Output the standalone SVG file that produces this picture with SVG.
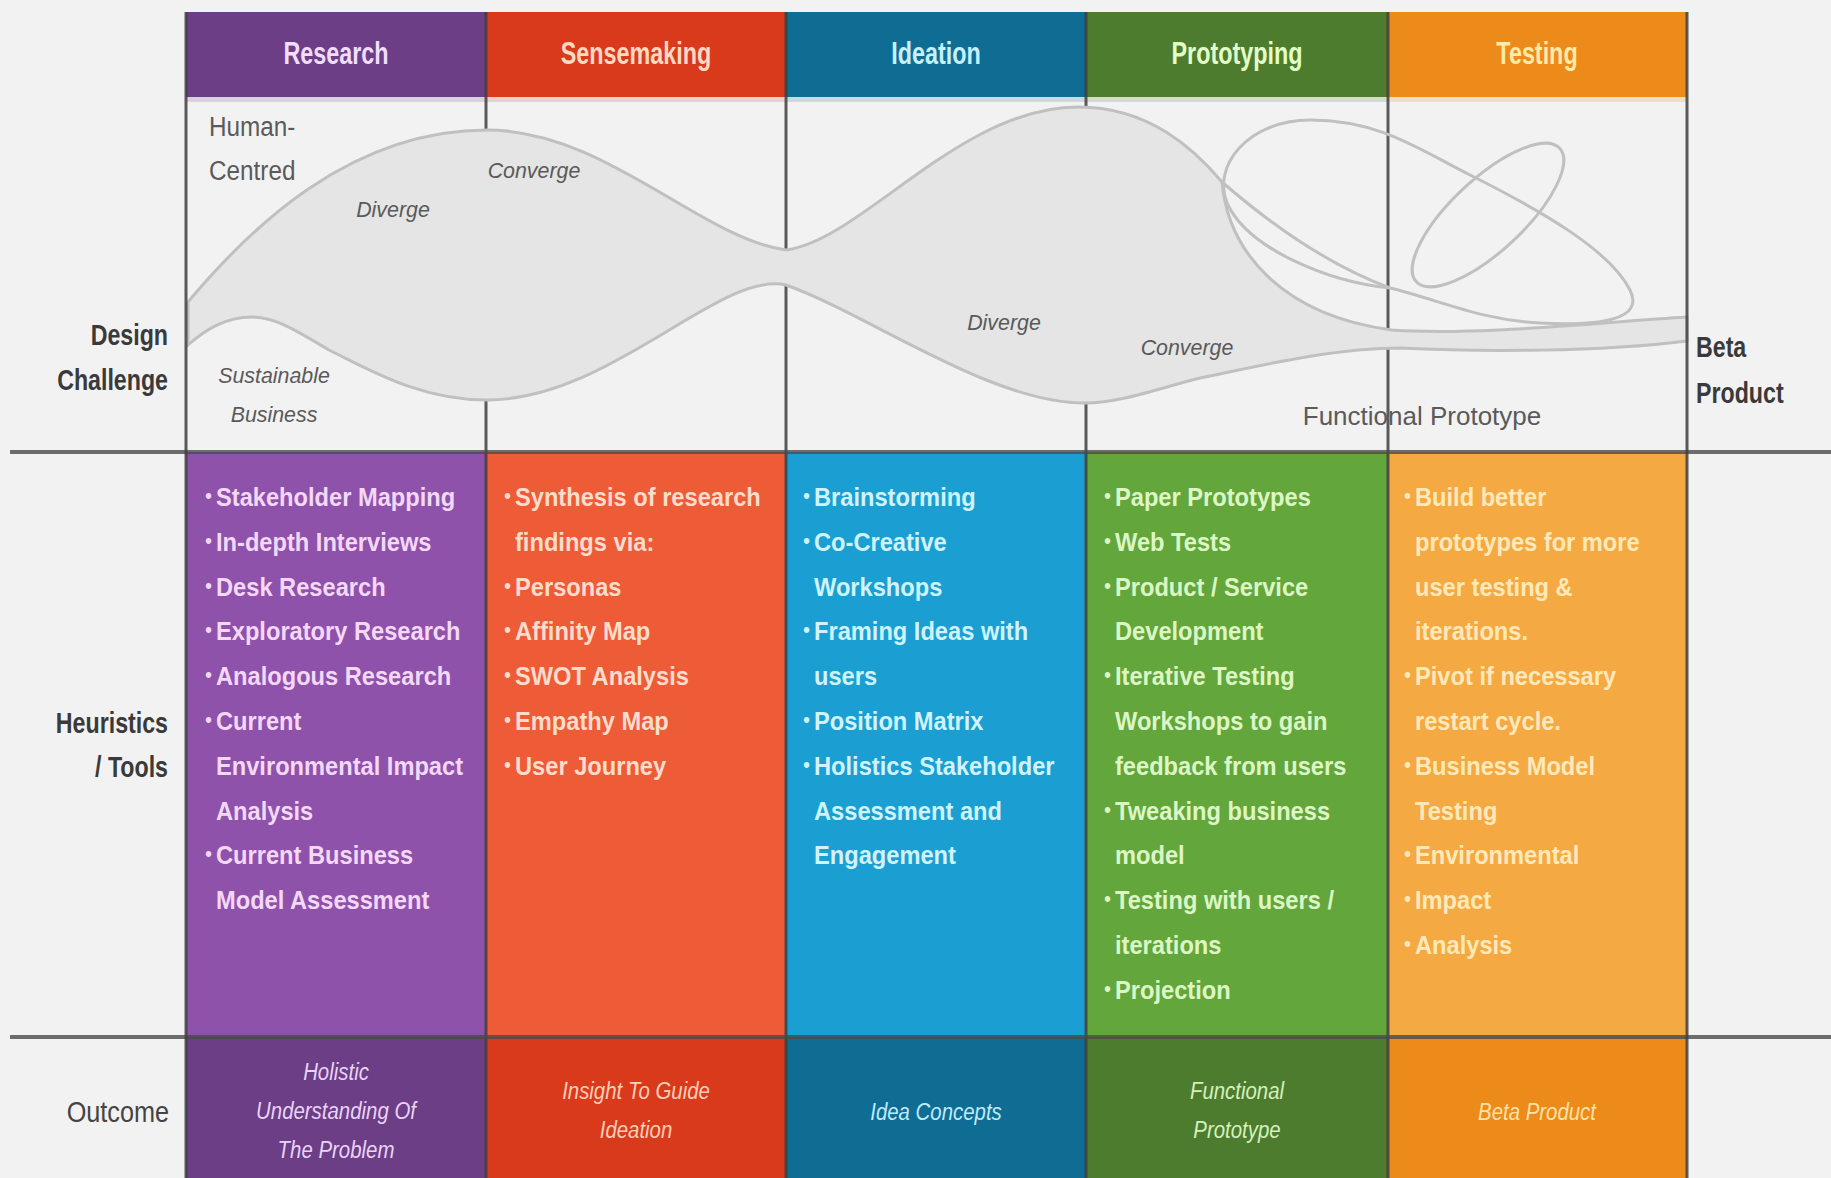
<svg xmlns="http://www.w3.org/2000/svg" width="1831" height="1178" viewBox="0 0 1831 1178">
<style>
.hdr{font-family:"Liberation Sans",Arial,sans-serif;font-weight:bold;font-size:32px;text-anchor:middle}
.li{font-family:"Liberation Sans",Arial,sans-serif;font-weight:bold;font-size:26px}
.bul{font-family:"Liberation Sans",Arial,sans-serif;font-size:22px}
.out{font-family:"Liberation Sans",Arial,sans-serif;font-style:italic;font-size:24px;text-anchor:middle}
.side{font-family:"Liberation Sans",Arial,sans-serif;font-weight:bold;font-size:29px;fill:#3a3a3a;text-anchor:end}
.sideR{font-family:"Liberation Sans",Arial,sans-serif;font-size:29px;fill:#444;text-anchor:end}
.note{font-family:"Liberation Sans",Arial,sans-serif;font-style:italic;font-size:23px;fill:#5a5a5a;text-anchor:middle}
.gl{font-family:"Liberation Sans",Arial,sans-serif;font-size:27px;fill:#5a5a5a}
.div{stroke:#3f3f3f;stroke-width:3;stroke-opacity:0.85}
.hline{stroke:#4a4a4a;stroke-width:4;stroke-opacity:0.8}
.wave{fill:#e5e5e5;stroke:#c0c0c0;stroke-width:3}
.loop{fill:none;stroke:#c0c0c0;stroke-width:3}
</style>
<rect x="0" y="0" width="1831" height="1178" fill="#f2f2f2"/>

<!-- Research -->
<g id="col-research">
  <rect x="186" y="12" width="300" height="85" fill="#6b3e86"/>
  <rect x="186" y="97" width="300" height="5" fill="#6b3e86" opacity="0.18"/>
  <rect x="186" y="452" width="300" height="585" fill="#8f52ab"/>
  <rect x="186" y="1037" width="300" height="141" fill="#6b3e86"/>
  <text class="hdr" fill="#f2dcff" transform="translate(336,64) scale(0.73,1)">Research</text>
  <g fill="#f3d8f8" transform="translate(216,0) scale(0.91,1)">
    <text class="bul" x="-12" y="503">•</text><text class="li" x="0" y="506">Stakeholder Mapping</text>
    <text class="bul" x="-12" y="548">•</text><text class="li" x="0" y="551">In-depth Interviews</text>
    <text class="bul" x="-12" y="593">•</text><text class="li" x="0" y="596">Desk Research</text>
    <text class="bul" x="-12" y="637">•</text><text class="li" x="0" y="640">Exploratory Research</text>
    <text class="bul" x="-12" y="682">•</text><text class="li" x="0" y="685">Analogous Research</text>
    <text class="bul" x="-12" y="727">•</text><text class="li" x="0" y="730">Current</text>
    <text class="li" x="0" y="775">Environmental Impact</text>
    <text class="li" x="0" y="820">Analysis</text>
    <text class="bul" x="-12" y="861">•</text><text class="li" x="0" y="864">Current Business</text>
    <text class="li" x="0" y="909">Model Assessment</text>
  </g>
  <g fill="#ead3f6">
    <text class="out" transform="translate(336,1080) scale(0.85,1)">Holistic</text>
    <text class="out" transform="translate(336,1119) scale(0.85,1)">Understanding Of</text>
    <text class="out" transform="translate(336,1158) scale(0.85,1)">The Problem</text>
  </g>
</g>

<!-- Sensemaking -->
<g id="col-sensemaking">
  <rect x="486" y="12" width="300" height="85" fill="#d93a1c"/>
  <rect x="486" y="97" width="300" height="5" fill="#d93a1c" opacity="0.18"/>
  <rect x="486" y="452" width="300" height="585" fill="#ee5b37"/>
  <rect x="486" y="1037" width="300" height="141" fill="#d93a1c"/>
  <text class="hdr" fill="#ffd9c2" transform="translate(636,64) scale(0.73,1)">Sensemaking</text>
  <g fill="#ffdccb" transform="translate(515,0) scale(0.91,1)">
    <text class="bul" x="-12" y="503">•</text><text class="li" x="0" y="506">Synthesis of research</text>
    <text class="li" x="0" y="551">findings via:</text>
    <text class="bul" x="-12" y="593">•</text><text class="li" x="0" y="596">Personas</text>
    <text class="bul" x="-12" y="637">•</text><text class="li" x="0" y="640">Affinity Map</text>
    <text class="bul" x="-12" y="682">•</text><text class="li" x="0" y="685">SWOT Analysis</text>
    <text class="bul" x="-12" y="727">•</text><text class="li" x="0" y="730">Empathy Map</text>
    <text class="bul" x="-12" y="772">•</text><text class="li" x="0" y="775">User Journey</text>
  </g>
  <g fill="#ffcfb8">
    <text class="out" transform="translate(636,1099) scale(0.85,1)">Insight To Guide</text>
    <text class="out" transform="translate(636,1138) scale(0.85,1)">Ideation</text>
  </g>
</g>

<!-- Ideation -->
<g id="col-ideation">
  <rect x="786" y="12" width="300" height="85" fill="#0f6d93"/>
  <rect x="786" y="97" width="300" height="5" fill="#0f6d93" opacity="0.18"/>
  <rect x="786" y="452" width="300" height="585" fill="#1b9fd2"/>
  <rect x="786" y="1037" width="300" height="141" fill="#0f6d93"/>
  <text class="hdr" fill="#c4f0ff" transform="translate(936,64) scale(0.73,1)">Ideation</text>
  <g fill="#cff3ff" transform="translate(814,0) scale(0.91,1)">
    <text class="bul" x="-12" y="503">•</text><text class="li" x="0" y="506">Brainstorming</text>
    <text class="bul" x="-12" y="548">•</text><text class="li" x="0" y="551">Co-Creative</text>
    <text class="li" x="0" y="596">Workshops</text>
    <text class="bul" x="-12" y="637">•</text><text class="li" x="0" y="640">Framing Ideas with</text>
    <text class="li" x="0" y="685">users</text>
    <text class="bul" x="-12" y="727">•</text><text class="li" x="0" y="730">Position Matrix</text>
    <text class="bul" x="-12" y="772">•</text><text class="li" x="0" y="775">Holistics Stakeholder</text>
    <text class="li" x="0" y="820">Assessment and</text>
    <text class="li" x="0" y="864">Engagement</text>
  </g>
  <g fill="#bfeaff">
    <text class="out" transform="translate(936,1120) scale(0.85,1)">Idea Concepts</text>
  </g>
</g>

<!-- Prototyping -->
<g id="col-prototyping">
  <rect x="1086" y="12" width="302" height="85" fill="#4e7c2f"/>
  <rect x="1086" y="97" width="302" height="5" fill="#4e7c2f" opacity="0.18"/>
  <rect x="1086" y="452" width="302" height="585" fill="#63a73c"/>
  <rect x="1086" y="1037" width="302" height="141" fill="#4e7c2f"/>
  <text class="hdr" fill="#e2ffc8" transform="translate(1237,64) scale(0.73,1)">Prototyping</text>
  <g fill="#ddf6c6" transform="translate(1115,0) scale(0.91,1)">
    <text class="bul" x="-12" y="503">•</text><text class="li" x="0" y="506">Paper Prototypes</text>
    <text class="bul" x="-12" y="548">•</text><text class="li" x="0" y="551">Web Tests</text>
    <text class="bul" x="-12" y="593">•</text><text class="li" x="0" y="596">Product / Service</text>
    <text class="li" x="0" y="640">Development</text>
    <text class="bul" x="-12" y="682">•</text><text class="li" x="0" y="685">Iterative Testing</text>
    <text class="li" x="0" y="730">Workshops to gain</text>
    <text class="li" x="0" y="775">feedback from users</text>
    <text class="bul" x="-12" y="817">•</text><text class="li" x="0" y="820">Tweaking business</text>
    <text class="li" x="0" y="864">model</text>
    <text class="bul" x="-12" y="906">•</text><text class="li" x="0" y="909">Testing with users /</text>
    <text class="li" x="0" y="954">iterations</text>
    <text class="bul" x="-12" y="996">•</text><text class="li" x="0" y="999">Projection</text>
  </g>
  <g fill="#d4f1bb">
    <text class="out" transform="translate(1237,1099) scale(0.85,1)">Functional</text>
    <text class="out" transform="translate(1237,1138) scale(0.85,1)">Prototype</text>
  </g>
</g>

<!-- Testing -->
<g id="col-testing">
  <rect x="1388" y="12" width="299" height="85" fill="#ec8a1a"/>
  <rect x="1388" y="97" width="299" height="5" fill="#ec8a1a" opacity="0.2"/>
  <rect x="1388" y="452" width="299" height="585" fill="#f5a942"/>
  <rect x="1388" y="1037" width="299" height="141" fill="#ec8a1a"/>
  <text class="hdr" fill="#ffeaa8" transform="translate(1537,64) scale(0.73,1)">Testing</text>
  <g fill="#ffe9bb" transform="translate(1415,0) scale(0.91,1)">
    <text class="bul" x="-12" y="503">•</text><text class="li" x="0" y="506">Build better</text>
    <text class="li" x="0" y="551">prototypes for more</text>
    <text class="li" x="0" y="596">user testing &amp;</text>
    <text class="li" x="0" y="640">iterations.</text>
    <text class="bul" x="-12" y="682">•</text><text class="li" x="0" y="685">Pivot if necessary</text>
    <text class="li" x="0" y="730">restart cycle.</text>
    <text class="bul" x="-12" y="772">•</text><text class="li" x="0" y="775">Business Model</text>
    <text class="li" x="0" y="820">Testing</text>
    <text class="bul" x="-12" y="861">•</text><text class="li" x="0" y="864">Environmental</text>
    <text class="bul" x="-12" y="906">•</text><text class="li" x="0" y="909">Impact</text>
    <text class="bul" x="-12" y="951">•</text><text class="li" x="0" y="954">Analysis</text>
  </g>
  <g fill="#ffe3a8">
    <text class="out" transform="translate(1537,1120) scale(0.85,1)">Beta Product</text>
  </g>
</g>

<!-- grid lines (connectors) -->
<g id="connectors">
  <line class="div" x1="486" y1="12" x2="486" y2="1178"/>
  <line class="div" x1="786" y1="12" x2="786" y2="1178"/>
  <line class="div" x1="1086" y1="12" x2="1086" y2="1178"/>
  <line class="div" x1="1388" y1="12" x2="1388" y2="1178"/>
  <line class="hline" x1="10" y1="452" x2="1831" y2="452"/>
  <line class="hline" x1="10" y1="1037" x2="1831" y2="1037"/>
</g>

<!-- design-challenge wave -->
<g id="wave">
  <path class="wave" d="M188,302 C250,228 350,130 487,130 C605,130 700,238 786,250 C862,240 960,107 1078,107 C1150,107 1195,150 1222,182 C1228,250 1280,315 1392,330 C1480,336 1600,322 1687,317 L1687,341 C1600,352 1480,352 1400,348 C1330,348 1250,368 1200,378 C1160,388 1120,403 1085,403 C990,403 870,315 786,285 C720,270 610,400 487,400 C420,400 370,370 329,350 C295,330 275,317 252,317 C225,317 205,330 188,345 Z"/>
  <path class="loop" d="M1222,182 C1260,215 1320,262 1390,288"/>
  <path class="loop" d="M1390,288 C1330,282 1250,250 1228,205 C1210,165 1250,120 1310,120 C1380,120 1420,150 1470,175 C1540,210 1610,250 1630,290 C1645,320 1600,326 1540,323 C1480,320 1440,300 1390,288 Z"/>
  <ellipse class="loop" cx="1488" cy="215" rx="98" ry="36" transform="rotate(-43 1488 215)"/>
</g>

<g id="borders">
  <line class="div" x1="186" y1="12" x2="186" y2="1178"/>
  <line class="div" x1="1687" y1="12" x2="1687" y2="1178"/>
</g>

<!-- labels -->
<g id="labels">
  <text class="side" transform="translate(168,345) scale(0.8,1)">Design</text>
  <text class="side" transform="translate(168,390) scale(0.8,1)">Challenge</text>
  <text class="side" transform="translate(168,733) scale(0.8,1)">Heuristics</text>
  <text class="side" transform="translate(168,777) scale(0.8,1)">/ Tools</text>
  <text class="sideR" transform="translate(169,1122) scale(0.87,1)">Outcome</text>
  <text class="side" style="text-anchor:start" transform="translate(1696,357) scale(0.8,1)">Beta</text>
  <text class="side" style="text-anchor:start" transform="translate(1696,403) scale(0.8,1)">Product</text>

  <text class="gl" transform="translate(209,136) scale(0.9,1)">Human-</text>
  <text class="gl" transform="translate(209,180) scale(0.9,1)">Centred</text>
  <text class="note" transform="translate(393,217) scale(0.93,1)">Diverge</text>
  <text class="note" transform="translate(534,178) scale(0.93,1)">Converge</text>
  <text class="note" fill="#666" transform="translate(274,383) scale(0.93,1)">Sustainable</text>
  <text class="note" fill="#666" transform="translate(274,422) scale(0.93,1)">Business</text>
  <text class="note" transform="translate(1004,330) scale(0.93,1)">Diverge</text>
  <text class="note" transform="translate(1187,355) scale(0.93,1)">Converge</text>
  <text class="gl" style="text-anchor:middle;font-size:26px" transform="translate(1422,425)">Functional Prototype</text>
</g>
</svg>
